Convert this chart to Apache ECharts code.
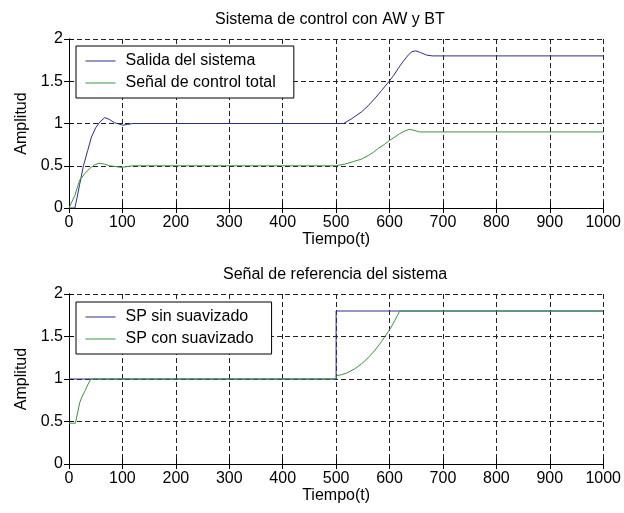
<!DOCTYPE html>
<html>
<head>
<meta charset="utf-8">
<script src="https://cdn.jsdelivr.net/npm/echarts@6/dist/echarts.min.js"></script>
<style>
html,body{margin:0;padding:0;background:#fff;}
#c{width:624px;height:513px;}
</style>
</head>
<body>
<div id="c"></div>
<script>
// ---- Data ----
var xTicks = [0, 100, 200, 300, 400, 500, 600, 700, 800, 900, 1000];
var yTicks = [0, 0.5, 1, 1.5, 2];

// Top plot: Salida del sistema
var tOut = [0, 11, 15, 20, 27, 35, 42, 50, 58, 67, 75, 85, 95, 101, 110, 120, 500, 514, 530, 548, 560, 573, 585, 598, 608, 616, 625, 635, 642, 649, 658, 669, 680, 1000];
var yOut = [0, 0, 0.12, 0.28, 0.5, 0.68, 0.84, 0.95, 1.02, 1.07, 1.05, 1.01, 0.99, 0.98, 0.99, 1.0, 1.0, 1.0, 1.06, 1.14, 1.21, 1.30, 1.39, 1.49, 1.57, 1.65, 1.73, 1.81, 1.85, 1.86, 1.84, 1.81, 1.8, 1.8];

// Top plot: Señal de control total
var tCtl = [0, 2, 11, 20, 30, 39, 48, 56, 66, 76, 88, 98, 108, 120, 500, 517, 533, 548, 560, 570, 580, 590, 600, 610, 619, 628, 637, 646, 656, 1000];
var yCtl = [0, 0.02, 0.15, 0.33, 0.41, 0.47, 0.51, 0.53, 0.52, 0.50, 0.49, 0.48, 0.49, 0.5, 0.5, 0.52, 0.55, 0.58, 0.62, 0.66, 0.71, 0.75, 0.80, 0.84, 0.88, 0.91, 0.93, 0.92, 0.9, 0.9];

// Bottom plot: SP sin suavizado
var tSin = [0, 500, 500, 1000];
var ySin = [1, 1, 1.8, 1.8];

// Bottom plot: SP con suavizado
var tCon = [0, 12, 16, 20, 25, 30, 35, 41, 500, 501, 510, 520, 535, 548, 560, 573, 585, 598, 605, 610, 615, 619, 1000];
var yCon = [0.48, 0.48, 0.6, 0.72, 0.8, 0.86, 0.93, 1.0, 1.0, 1.04, 1.05, 1.07, 1.12, 1.18, 1.25, 1.34, 1.44, 1.56, 1.63, 1.69, 1.75, 1.8, 1.8];

var titles = ['Sistema de control con AW y BT', 'Señal de referencia del sistema'];
var names = ['Salida del sistema', 'Señal de control total', 'SP sin suavizado', 'SP con suavizado'];

function pairs(t, y) { return t.map(function (v, i) { return [v, y[i]]; }); }

var FONT = "'Liberation Sans', Arial, sans-serif";
var BLUE = '#2e2e86';
var GREEN = '#3f9142';

function mainX(gi) {
  return {
    type: 'value', gridIndex: gi, min: xTicks[0], max: xTicks[xTicks.length - 1], interval: 100,
    name: 'Tiempo(t)', nameLocation: 'middle', nameGap: 20,
    nameTextStyle: { color: '#000', fontSize: 16, fontFamily: FONT },
    axisLine: { show: true, lineStyle: { color: '#000', width: 1 } },
    axisTick: { show: true, inside: true, length: 5, lineStyle: { color: '#000' } },
    axisLabel: { color: '#000', fontSize: 16, fontFamily: FONT, margin: 7, formatter: function (v) { return String(v); } },
    splitLine: { show: true, lineStyle: { color: '#222', type: [5, 3], width: 1 } }
  };
}
function sideX(gi) {
  return {
    type: 'value', gridIndex: gi, position: 'top', min: 0, max: 1000, interval: 100,
    axisLine: { show: true, lineStyle: { color: '#000', width: 1 } },
    axisTick: { show: true, inside: true, length: 5, lineStyle: { color: '#000' } },
    axisLabel: { show: false }, splitLine: { show: false }
  };
}
function mainY(gi) {
  return {
    type: 'value', gridIndex: gi, min: yTicks[0], max: yTicks[yTicks.length - 1], interval: 0.5,
    name: 'Amplitud', nameLocation: 'middle', nameGap: 38, nameRotate: 90,
    nameTextStyle: { color: '#000', fontSize: 16, fontFamily: FONT },
    axisLine: { show: true, lineStyle: { color: '#000', width: 1 } },
    axisTick: { show: true, inside: true, length: 5, lineStyle: { color: '#000' } },
    axisLabel: { color: '#000', fontSize: 16, fontFamily: FONT, margin: 6, formatter: function (v) { return String(v); } },
    splitLine: { show: true, lineStyle: { color: '#222', type: [5, 3], width: 1 } }
  };
}
function sideY(gi) {
  return {
    type: 'value', gridIndex: gi, position: 'right', min: 0, max: 2, interval: 0.5,
    axisLine: { show: true, lineStyle: { color: '#000', width: 1 } },
    axisTick: { show: true, inside: true, length: 5, lineStyle: { color: '#000' } },
    axisLabel: { show: false }, splitLine: { show: false }
  };
}
function legend(top, data) {
  return {
    data: data, orient: 'vertical', left: 76, top: top,
    padding: [7, 18, 7, 9], itemGap: 6, itemWidth: 30, itemHeight: 14,
    backgroundColor: '#fff', borderColor: '#000', borderWidth: 1, borderRadius: 0,
    itemStyle: { opacity: 0 },
    lineStyle: { width: 1 },
    textStyle: { color: '#000', fontSize: 16, fontFamily: FONT, padding: [0, 0, 0, 5] },
    selectedMode: false
  };
}
function line(name, xi, yi, data, color) {
  return {
    name: name, type: 'line', xAxisIndex: xi, yAxisIndex: yi, data: data,
    symbol: 'none', showSymbol: false, smooth: false, animation: false,
    lineStyle: { color: color, width: 1 }, itemStyle: { color: color }
  };
}

var chart = echarts.init(document.getElementById('c'), null, { renderer: 'canvas' });
chart.setOption({
  backgroundColor: '#fff',
  animation: false,
  title: [
    { text: titles[0], left: 215, top: 12, padding: 0, textStyle: { color: '#000', fontSize: 16, fontWeight: 'normal', fontFamily: FONT } },
    { text: titles[1], left: 223, top: 267, padding: 0, textStyle: { color: '#000', fontSize: 16, fontWeight: 'normal', fontFamily: FONT } }
  ],
  legend: [legend(46, [names[0], names[1]]), legend(302, [names[2], names[3]])],
  grid: [
    { left: 69, right: 18, top: 39, height: 169 },
    { left: 69, right: 18, top: 294, height: 170 }
  ],
  xAxis: [mainX(0), sideX(0), mainX(1), sideX(1)],
  yAxis: [mainY(0), sideY(0), mainY(1), sideY(1)],
  series: [
    line(names[0], 0, 0, pairs(tOut, yOut), BLUE),
    line(names[1], 0, 0, pairs(tCtl, yCtl), GREEN),
    line(names[2], 2, 2, pairs(tSin, ySin), BLUE),
    line(names[3], 2, 2, pairs(tCon, yCon), GREEN)
  ]
});
</script>
</body>
</html>
